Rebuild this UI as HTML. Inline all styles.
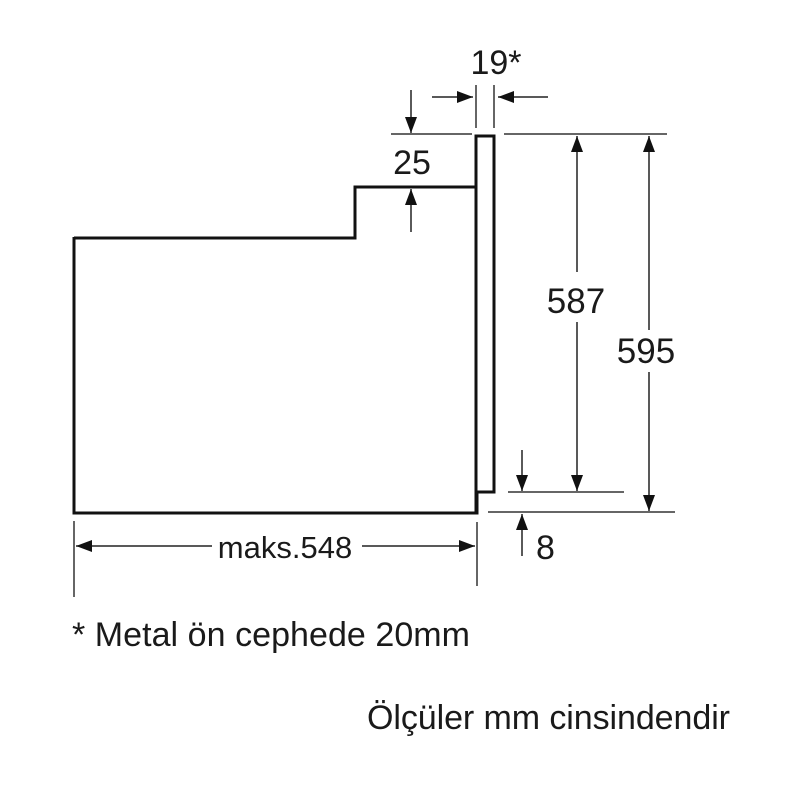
<!DOCTYPE html>
<html><head><meta charset="utf-8"><style>
html,body{margin:0;padding:0;background:#fff;}
svg{display:block;}
text{font-family:"Liberation Sans",Arial,sans-serif;fill:#1a1a1a;}
</style></head><body>
<svg width="800" height="800" viewBox="0 0 800 800" xmlns="http://www.w3.org/2000/svg">
<defs>
<marker id="a" viewBox="0 0 16 12" refX="16" refY="6" markerWidth="16" markerHeight="12" markerUnits="userSpaceOnUse" orient="auto">
<path d="M0,0 L16,6 L0,12 Z" fill="#111"/></marker>
</defs>
<g fill="none" stroke="#111">
<path d="M74,238 H355 V187 H476" stroke-width="3"/>
<path d="M74,237 V513 H477 V492 H494 V136 H476 V512" stroke-width="3"/>
<g stroke-width="1.5" stroke="#333">
<line x1="391" y1="134" x2="472" y2="134"/>
<line x1="504" y1="134" x2="667" y2="134"/>
<line x1="476" y1="85" x2="476" y2="128"/>
<line x1="494" y1="85" x2="494" y2="128"/>
<line x1="508" y1="492" x2="624" y2="492"/>
<line x1="488" y1="512" x2="675" y2="512"/>
<line x1="74" y1="521" x2="74" y2="597"/>
<line x1="477" y1="522" x2="477" y2="586"/>
</g>
<g stroke-width="1.5" stroke="#222">
<line x1="432" y1="97" x2="473" y2="97" marker-end="url(#a)"/>
<line x1="548" y1="97" x2="498" y2="97" marker-end="url(#a)"/>
<line x1="411" y1="90" x2="411" y2="133" marker-end="url(#a)"/>
<line x1="411" y1="232" x2="411" y2="189" marker-end="url(#a)"/>
<line x1="577" y1="272" x2="577" y2="136" marker-end="url(#a)"/>
<line x1="577" y1="322" x2="577" y2="491" marker-end="url(#a)"/>
<line x1="649" y1="330" x2="649" y2="136" marker-end="url(#a)"/>
<line x1="649" y1="372" x2="649" y2="511" marker-end="url(#a)"/>
<line x1="522" y1="450" x2="522" y2="491" marker-end="url(#a)"/>
<line x1="522" y1="556" x2="522" y2="514" marker-end="url(#a)"/>
<line x1="212" y1="546" x2="76" y2="546" marker-end="url(#a)"/>
<line x1="362" y1="546" x2="475" y2="546" marker-end="url(#a)"/>
</g>
</g>
<text x="496" y="74" font-size="34" text-anchor="middle">19*</text>
<text x="412" y="174" font-size="34" text-anchor="middle">25</text>
<text x="576" y="313" font-size="35" text-anchor="middle">587</text>
<text x="646" y="363" font-size="35" text-anchor="middle">595</text>
<text x="536" y="559" font-size="34">8</text>
<text x="285" y="558" font-size="31" text-anchor="middle">maks.548</text>
<text x="72" y="646" font-size="34" textLength="398">* Metal ön cephede 20mm</text>
<text x="367" y="729" font-size="34" textLength="363">Ölçüler mm cinsindendir</text>
</svg>
</body></html>
